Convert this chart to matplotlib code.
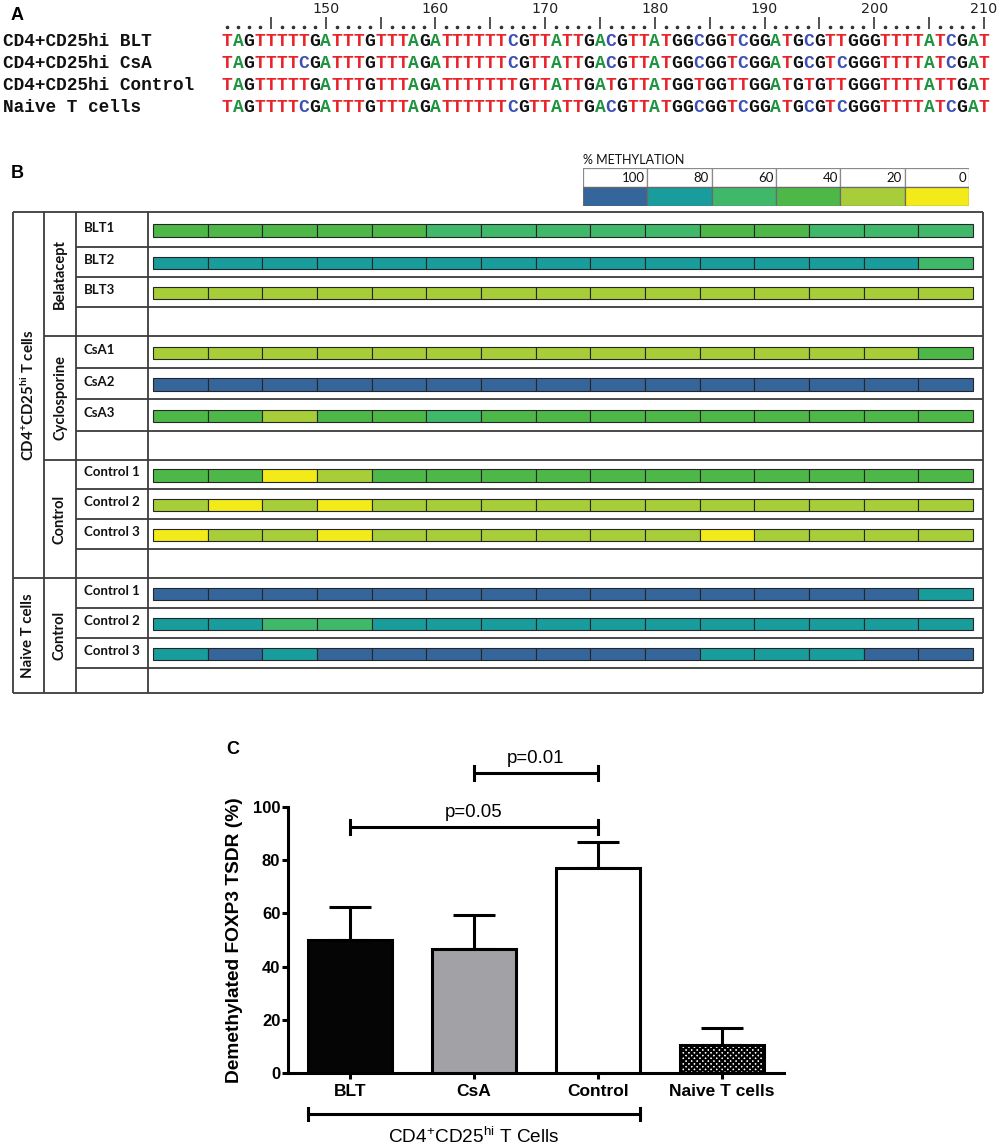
import matplotlib
matplotlib.use('Agg')
import matplotlib.pyplot as plt
import numpy as np
from matplotlib.transforms import blended_transform_factory

plt.rcParams['mathtext.default'] = 'regular'
plt.rcParams['hatch.linewidth'] = 1.6

W, H = 999, 1145
fig = plt.figure(figsize=(W / 100, H / 100), dpi=100)


def add_ax(x0, y0, x1, y1):
    return fig.add_axes([x0 / W, 1 - y1 / H, (x1 - x0) / W, (y1 - y0) / H])


# ------------------------------------------------------------------ DATA
# Panel A: bisulfite sequences (positions 141..210)
seq_start = 141
seq_names = ['CD4+CD25hi BLT', 'CD4+CD25hi CsA', 'CD4+CD25hi Control', 'Naive T cells']
seq_blt = 'TAGTTTTTGATTTGTTTAGATTTTTTCGTTATTGACGTTATGGCGGTCGGATGCGTTGGGTTTTATCGAT'
seq_csa = 'TAGTTTTCGATTTGTTTAGATTTTTTCGTTATTGACGTTATGGCGGTCGGATGCGTCGGGTTTTATCGAT'
seq_ctrl = 'TAGTTTTTGATTTGTTTAGATTTTTTTGTTATTGATGTTATGGTGGTTGGATGTGTTGGGTTTTATTGAT'
seq_naive = 'TAGTTTTCGATTTGTTTAGATTTTTTCGTTATTGACGTTATGGCGGTCGGATGCGTCGGGTTTTATCGAT'
ruler_labels = [150, 160, 170, 180, 190, 200, 210]
base_colors = {'T': '#E8232A', 'A': '#1F9340', 'G': '#111111', 'C': '#3D4FB5'}

# Panel B: % methylation of the 15 CpG sites
meth_levels = [100, 80, 60, 40, 20, 0]
meth_colors = ['#35669B', '#189C9C', '#3FB86A', '#4DB848', '#A7CE39', '#F3EA1A']
blt1 = [40, 40, 40, 40, 40, 60, 60, 60, 60, 60, 40, 40, 60, 60, 60]
blt2 = [80, 80, 80, 80, 80, 80, 80, 80, 80, 80, 80, 80, 80, 80, 60]
blt3 = [20, 20, 20, 20, 20, 20, 20, 20, 20, 20, 20, 20, 20, 20, 20]
csa1 = [20, 20, 20, 20, 20, 20, 20, 20, 20, 20, 20, 20, 20, 20, 40]
csa2 = [100, 100, 100, 100, 100, 100, 100, 100, 100, 100, 100, 100, 100, 100, 100]
csa3 = [40, 40, 20, 40, 40, 60, 40, 40, 40, 40, 40, 40, 40, 40, 40]
ctl1 = [40, 40, 0, 20, 40, 40, 40, 40, 40, 40, 40, 40, 40, 40, 40]
ctl2 = [20, 0, 20, 0, 20, 20, 20, 20, 20, 20, 20, 20, 20, 20, 20]
ctl3 = [0, 20, 20, 0, 20, 20, 20, 20, 20, 20, 0, 20, 20, 20, 20]
nai1 = [100, 100, 100, 100, 100, 100, 100, 100, 100, 100, 100, 100, 100, 100, 80]
nai2 = [80, 80, 60, 60, 80, 80, 80, 80, 80, 80, 80, 80, 80, 80, 80]
nai3 = [80, 100, 80, 100, 100, 100, 100, 100, 100, 100, 80, 80, 80, 100, 100]
row_labels = ['BLT1', 'BLT2', 'BLT3', '', 'CsA1', 'CsA2', 'CsA3', '',
              'Control 1', 'Control 2', 'Control 3', '',
              'Control 1', 'Control 2', 'Control 3', '']
row_values = [blt1, blt2, blt3, None, csa1, csa2, csa3, None,
              ctl1, ctl2, ctl3, None, nai1, nai2, nai3, None]
treat_labels = ['Belatacept', 'Cyclosporine', 'Control', 'Control']
cell_labels = [r'CD4$^{+}$CD25$^{hi}$ T cells', 'Naive T cells']

# Panel C
groups = ['BLT', 'CsA', 'Control', 'Naive T cells']
means = [50.0, 46.7, 77.0, 10.5]
sems = [12.5, 12.8, 10.0, 6.5]
bar_colors = ['#050505', '#A2A2A6', '#FFFFFF', '#FFFFFF']
p_pairs = [(0, 2, 'p=0.05', 92.3), (1, 2, 'p=0.01', 112.8)]

# ------------------------------------------------------------------ PANEL A
axA = add_ax(0, 0, 999, 120)
px_pos = 10.97
axA.set_xlim(seq_start - 227 / px_pos, seq_start + (999 - 227) / px_pos)
axA.set_ylim((120 - 41) / 22, (0 - 41) / 22)
axA.axis('off')
seqs = [seq_blt, seq_csa, seq_ctrl, seq_naive]
tA = blended_transform_factory(axA.transAxes, axA.transData)
for r, (name, s) in enumerate(zip(seq_names, seqs)):
    axA.text(3 / 999, r, name, transform=tA, ha='left', va='center',
             family='Liberation Mono', weight='bold', fontsize=12.8, color='#111')
    for i, ch in enumerate(s):
        axA.text(seq_start + i, r, ch, ha='center', va='center',
                 family='Liberation Mono', weight='bold', fontsize=13,
                 color=base_colors[ch])
positions = np.arange(seq_start, seq_start + len(seq_blt))
dots = positions[positions % 5 != 0]
bars_ = positions[positions % 5 == 0]
axA.plot(dots, np.full(len(dots), (27 - 41) / 22), ls='none', marker='o',
         ms=1.6, color='#333')
axA.plot(bars_, np.full(len(bars_), (23 - 41) / 22), ls='none', marker='|',
         ms=8, mew=1.2, color='#333')
for v in ruler_labels:
    axA.text(v, (9 - 41) / 22, str(v), ha='center', va='center',
             family='DejaVu Sans', fontsize=10.3, color='#222')
fig.text(11 / W, 1 - 15 / H, 'A', ha='left', va='center',
         family='Liberation Sans', weight='bold', fontsize=13)

# ------------------------------------------------------------------ PANEL B
fig.text(11 / W, 1 - 173 / H, 'B', ha='left', va='center',
         family='Liberation Sans', weight='bold', fontsize=13)

row_edges = [212, 247, 277, 307, 336, 368, 399, 431, 460, 489, 519, 549,
             578, 608, 638, 668, 693]
col_edges = [13, 44, 76, 148, 983]
axT = add_ax(0, 0, 999, 1145)
axT.set_xlim(0, 999)
axT.set_ylim(1145, 0)
axT.axis('off')
line_kw = dict(color='#3C3C3C', lw=1.3)
axT.vlines(col_edges, row_edges[0], row_edges[-1], **line_kw)
axT.hlines(row_edges, col_edges[2], col_edges[-1], **line_kw)
axT.hlines(row_edges[::4], col_edges[1], col_edges[2], **line_kw)
axT.hlines([row_edges[0], row_edges[12], row_edges[16]], col_edges[0], col_edges[1], **line_kw)

lab_font = dict(family='Lato', weight='bold', color='#111')
for i, lab in enumerate(row_labels):
    if lab:
        yc = (row_edges[i] + row_edges[i + 1]) / 2 - 2
        axT.text(84, yc, lab, ha='left', va='center', fontsize=9.5, **lab_font)
for g, lab in enumerate(treat_labels):
    yc = (row_edges[4 * g] + row_edges[4 * g + 4]) / 2
    axT.text((col_edges[1] + col_edges[2]) / 2, yc, lab, rotation=90,
             ha='center', va='center', fontsize=10.5, **lab_font)
axT.text((col_edges[0] + col_edges[1]) / 2, (row_edges[0] + row_edges[12]) / 2,
         cell_labels[0], rotation=90, ha='center', va='center', fontsize=10.8, **lab_font)
axT.text((col_edges[0] + col_edges[1]) / 2, (row_edges[12] + row_edges[16]) / 2,
         cell_labels[1], rotation=90, ha='center', va='center', fontsize=10.8, **lab_font)

# heat bars
axH = add_ax(148, 0, 983, 1145)
axH.set_xlim(-5 / 54.67, 15 + 10 / 54.67)
axH.set_ylim(1145, 0)
axH.axis('off')
cmap = dict(zip(meth_levels, meth_colors))
for i, vals in enumerate(row_values):
    if vals is None:
        continue
    yc = (row_edges[i] + row_edges[i + 1]) / 2 + 1
    axH.barh(np.full(len(vals), yc), width=1, left=np.arange(len(vals)), height=12.5,
             color=[cmap[v] for v in vals], edgecolor='#262626', linewidth=0.8)

# legend
axL = add_ax(583, 168, 969, 206)
axL.set_xlim(0, len(meth_levels))
axL.set_ylim(2, 0)
axL.axis('off')
idx = np.arange(len(meth_levels))
axL.bar(idx, 1, bottom=0, width=1, align='edge', color='white', edgecolor='#8A8A8A', lw=0.9)
axL.bar(idx, 1, bottom=1, width=1, align='edge', color=meth_colors, edgecolor='#6A6A6A', lw=0.9)
for i, lv in enumerate(meth_levels):
    axL.text(i + 0.96, 0.52, str(lv), ha='right', va='center', family='Lato',
             fontsize=9.5, color='#111')
fig.text(583 / W, 1 - 160 / H, '% METHYLATION', ha='left', va='center',
         family='Lato', fontsize=9, color='#111')

# ------------------------------------------------------------------ PANEL C
axC = add_ax(288, 740.5, 784, 1073)
axC.set_xlim(-0.5, 3.5)
axC.set_ylim(0, 125)
x = np.arange(len(groups))
bars = axC.bar(x, means, width=0.68, color=bar_colors, edgecolor='black', linewidth=2.2, zorder=3)
bars[3].set_hatch('xxxxxx')
axC.errorbar(x, means, yerr=[np.zeros(len(sems)), sems], fmt='none', ecolor='black',
             elinewidth=2.2, capsize=15, capthick=2.2, zorder=2)
for s in ['top', 'right']:
    axC.spines[s].set_visible(False)
axC.spines['left'].set_bounds(0, 100)
axC.spines['left'].set_linewidth(2.2)
axC.spines['bottom'].set_linewidth(2.2)
axC.set_yticks([0, 20, 40, 60, 80, 100])
axC.set_xticks(x)
axC.set_xticklabels(groups, family='Liberation Sans', weight='bold', fontsize=12.5)
axC.set_yticklabels([0, 20, 40, 60, 80, 100], family='Liberation Sans', weight='bold', fontsize=12)
axC.tick_params(axis='y', length=4.5, width=2.2, pad=1)
axC.tick_params(axis='x', length=4, width=2.2, pad=4)
axC.set_ylabel('Demethylated FOXP3 TSDR (%)', family='Liberation Sans', weight='bold', fontsize=13.8)
axC.yaxis.set_label_coords(-0.09, 0.4)

cap = 7 / 2.66
for a, b, txt, yv in p_pairs:
    axC.plot([a, b], [yv, yv], color='black', lw=2.2, clip_on=False, solid_capstyle='butt')
    axC.plot([a, a], [yv - cap, yv + cap], color='black', lw=2.2, clip_on=False)
    axC.plot([b, b], [yv - cap, yv + cap], color='black', lw=2.2, clip_on=False)
    axC.text((a + b) / 2, yv + 5.5, txt, ha='center', va='center',
             family='Liberation Sans', fontsize=13.4)

yb = -(1114 - 1073) / 2.66
capb = 6 / 2.66
xa, xb = x[0] - 0.34, x[2] + 0.34
axC.plot([xa, xb], [yb, yb], color='black', lw=2.2, clip_on=False)
axC.plot([xa, xa], [yb - capb, yb + capb], color='black', lw=2.2, clip_on=False)
axC.plot([xb, xb], [yb - capb, yb + capb], color='black', lw=2.2, clip_on=False)
axC.text((xa + xb) / 2, -(1137 - 1073) / 2.66, r'CD4$^{+}$CD25$^{hi}$ T Cells',
         ha='center', va='center', family='Liberation Sans', fontsize=13.7, clip_on=False)

fig.text(233 / W, 1 - 749 / H, 'C', ha='center', va='center',
         family='Liberation Sans', weight='bold', fontsize=13)

fig.savefig('out.png', dpi=100)
